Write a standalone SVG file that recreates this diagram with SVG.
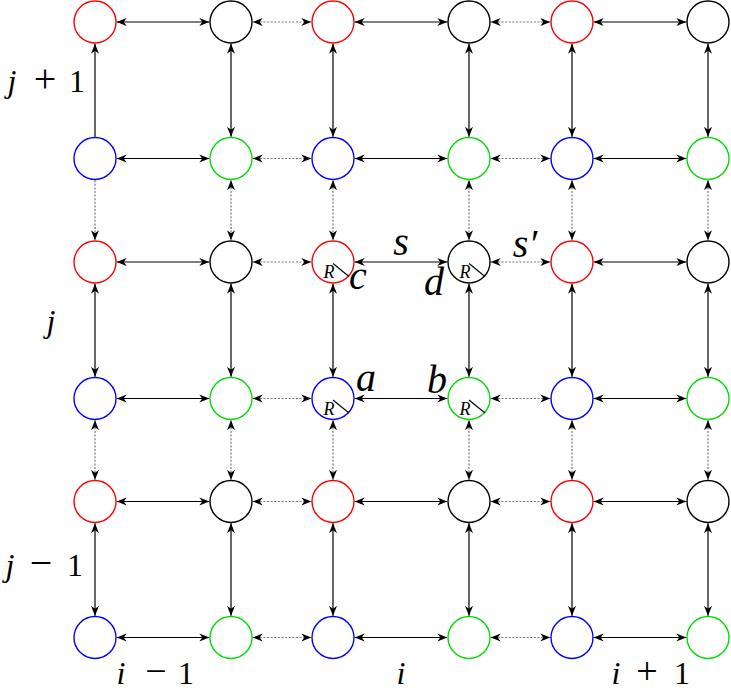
<svg xmlns="http://www.w3.org/2000/svg" width="731" height="692" viewBox="0 0 731 692">
<defs>
<marker id="ah" markerUnits="userSpaceOnUse" markerWidth="12" markerHeight="10" refX="10" refY="5" orient="auto-start-reverse" viewBox="0 0 12 10">
<path d="M0,1 L10,5 L0,9 L3,5 Z" fill="#000"/>
</marker>
</defs>
<g id="connectors" fill="none" stroke-width="1.2">
<g stroke="#000" marker-start="url(#ah)" marker-end="url(#ah)">
<line x1="116.7" y1="22" x2="209.3" y2="22"/><line x1="354.7" y1="22" x2="447.3" y2="22"/><line x1="593.7" y1="22" x2="686.3" y2="22"/>
<line x1="116.7" y1="158.5" x2="209.3" y2="158.5"/><line x1="354.7" y1="158.5" x2="447.3" y2="158.5"/><line x1="593.7" y1="158.5" x2="686.3" y2="158.5"/>
<line x1="116.7" y1="262" x2="209.3" y2="262"/><line x1="354.7" y1="262" x2="447.3" y2="262"/><line x1="593.7" y1="262" x2="686.3" y2="262"/>
<line x1="116.7" y1="398.5" x2="209.3" y2="398.5"/><line x1="354.7" y1="398.5" x2="447.3" y2="398.5"/><line x1="593.7" y1="398.5" x2="686.3" y2="398.5"/>
<line x1="116.7" y1="501.5" x2="209.3" y2="501.5"/><line x1="354.7" y1="501.5" x2="447.3" y2="501.5"/><line x1="593.7" y1="501.5" x2="686.3" y2="501.5"/>
<line x1="116.7" y1="637.5" x2="209.3" y2="637.5"/><line x1="354.7" y1="637.5" x2="447.3" y2="637.5"/><line x1="593.7" y1="637.5" x2="686.3" y2="637.5"/>
<line x1="95" y1="283.7" x2="95" y2="376.8"/><line x1="95" y1="523.2" x2="95" y2="615.8"/>
<line x1="231" y1="43.7" x2="231" y2="136.8"/><line x1="231" y1="283.7" x2="231" y2="376.8"/><line x1="231" y1="523.2" x2="231" y2="615.8"/>
<line x1="333" y1="43.7" x2="333" y2="136.8"/><line x1="333" y1="283.7" x2="333" y2="376.8"/><line x1="333" y1="523.2" x2="333" y2="615.8"/>
<line x1="469" y1="43.7" x2="469" y2="136.8"/><line x1="469" y1="283.7" x2="469" y2="376.8"/><line x1="469" y1="523.2" x2="469" y2="615.8"/>
<line x1="572" y1="43.7" x2="572" y2="136.8"/><line x1="572" y1="283.7" x2="572" y2="376.8"/><line x1="572" y1="523.2" x2="572" y2="615.8"/>
<line x1="708" y1="43.7" x2="708" y2="136.8"/><line x1="708" y1="283.7" x2="708" y2="376.8"/><line x1="708" y1="523.2" x2="708" y2="615.8"/>
</g>
<line stroke="#000" marker-end="url(#ah)" x1="95" y1="136.8" x2="95" y2="43.7"/>
<g stroke="#777" stroke-dasharray="2 1.6" marker-start="url(#ah)" marker-end="url(#ah)">
<line x1="252.7" y1="22" x2="311.3" y2="22"/><line x1="490.7" y1="22" x2="550.3" y2="22"/>
<line x1="252.7" y1="158.5" x2="311.3" y2="158.5"/><line x1="490.7" y1="158.5" x2="550.3" y2="158.5"/>
<line x1="252.7" y1="262" x2="311.3" y2="262"/><line x1="490.7" y1="262" x2="550.3" y2="262"/>
<line x1="252.7" y1="398.5" x2="311.3" y2="398.5"/><line x1="490.7" y1="398.5" x2="550.3" y2="398.5"/>
<line x1="252.7" y1="501.5" x2="311.3" y2="501.5"/><line x1="490.7" y1="501.5" x2="550.3" y2="501.5"/>
<line x1="252.7" y1="637.5" x2="311.3" y2="637.5"/><line x1="490.7" y1="637.5" x2="550.3" y2="637.5"/>
<line x1="95" y1="420.2" x2="95" y2="479.8"/>
<line x1="231" y1="180.2" x2="231" y2="240.3"/><line x1="231" y1="420.2" x2="231" y2="479.8"/>
<line x1="333" y1="180.2" x2="333" y2="240.3"/><line x1="333" y1="420.2" x2="333" y2="479.8"/>
<line x1="469" y1="180.2" x2="469" y2="240.3"/><line x1="469" y1="420.2" x2="469" y2="479.8"/>
<line x1="572" y1="180.2" x2="572" y2="240.3"/><line x1="572" y1="420.2" x2="572" y2="479.8"/>
<line x1="708" y1="180.2" x2="708" y2="240.3"/><line x1="708" y1="420.2" x2="708" y2="479.8"/>
</g>
<line stroke="#777" stroke-dasharray="2 1.6" marker-end="url(#ah)" x1="95" y1="180.2" x2="95" y2="240.3"/>
</g>
<g id="nodes" fill="#fff" stroke-width="1.4">
<g id="n0_0"><circle stroke="#ff0000" cx="95" cy="22" r="21"/></g>
<g id="n0_1"><circle stroke="#000" cx="231" cy="22" r="21"/></g>
<g id="n0_2"><circle stroke="#ff0000" cx="333" cy="22" r="21"/></g>
<g id="n0_3"><circle stroke="#000" cx="469" cy="22" r="21"/></g>
<g id="n0_4"><circle stroke="#ff0000" cx="572" cy="22" r="21"/></g>
<g id="n0_5"><circle stroke="#000" cx="708" cy="22" r="21"/></g>
<g id="n1_0"><circle stroke="#0000ff" cx="95" cy="158.5" r="21"/></g>
<g id="n1_1"><circle stroke="#00dd00" cx="231" cy="158.5" r="21"/></g>
<g id="n1_2"><circle stroke="#0000ff" cx="333" cy="158.5" r="21"/></g>
<g id="n1_3"><circle stroke="#00dd00" cx="469" cy="158.5" r="21"/></g>
<g id="n1_4"><circle stroke="#0000ff" cx="572" cy="158.5" r="21"/></g>
<g id="n1_5"><circle stroke="#00dd00" cx="708" cy="158.5" r="21"/></g>
<g id="n2_0"><circle stroke="#ff0000" cx="95" cy="262" r="21"/></g>
<g id="n2_1"><circle stroke="#000" cx="231" cy="262" r="21"/></g>
<g id="n2_2"><circle stroke="#ff0000" cx="333" cy="262" r="21"/><line stroke="#000" stroke-width="1.1" x1="333" y1="263.5" x2="349" y2="276.5"/><text x="329" y="278" text-anchor="middle" font-family="Liberation Serif" font-style="italic" font-size="18" fill="#000" stroke="none">R</text></g>
<g id="n2_3"><circle stroke="#000" cx="469" cy="262" r="21"/><line stroke="#000" stroke-width="1.1" x1="469" y1="263.5" x2="485" y2="276.5"/><text x="465" y="278" text-anchor="middle" font-family="Liberation Serif" font-style="italic" font-size="18" fill="#000" stroke="none">R</text></g>
<g id="n2_4"><circle stroke="#ff0000" cx="572" cy="262" r="21"/></g>
<g id="n2_5"><circle stroke="#000" cx="708" cy="262" r="21"/></g>
<g id="n3_0"><circle stroke="#0000ff" cx="95" cy="398.5" r="21"/></g>
<g id="n3_1"><circle stroke="#00dd00" cx="231" cy="398.5" r="21"/></g>
<g id="n3_2"><circle stroke="#0000ff" cx="333" cy="398.5" r="21"/><line stroke="#000" stroke-width="1.1" x1="333" y1="400" x2="349" y2="413"/><text x="329" y="414.5" text-anchor="middle" font-family="Liberation Serif" font-style="italic" font-size="18" fill="#000" stroke="none">R</text></g>
<g id="n3_3"><circle stroke="#00dd00" cx="469" cy="398.5" r="21"/><line stroke="#000" stroke-width="1.1" x1="469" y1="400" x2="485" y2="413"/><text x="465" y="414.5" text-anchor="middle" font-family="Liberation Serif" font-style="italic" font-size="18" fill="#000" stroke="none">R</text></g>
<g id="n3_4"><circle stroke="#0000ff" cx="572" cy="398.5" r="21"/></g>
<g id="n3_5"><circle stroke="#00dd00" cx="708" cy="398.5" r="21"/></g>
<g id="n4_0"><circle stroke="#ff0000" cx="95" cy="501.5" r="21"/></g>
<g id="n4_1"><circle stroke="#000" cx="231" cy="501.5" r="21"/></g>
<g id="n4_2"><circle stroke="#ff0000" cx="333" cy="501.5" r="21"/></g>
<g id="n4_3"><circle stroke="#000" cx="469" cy="501.5" r="21"/></g>
<g id="n4_4"><circle stroke="#ff0000" cx="572" cy="501.5" r="21"/></g>
<g id="n4_5"><circle stroke="#000" cx="708" cy="501.5" r="21"/></g>
<g id="n5_0"><circle stroke="#0000ff" cx="95" cy="637.5" r="21"/></g>
<g id="n5_1"><circle stroke="#00dd00" cx="231" cy="637.5" r="21"/></g>
<g id="n5_2"><circle stroke="#0000ff" cx="333" cy="637.5" r="21"/></g>
<g id="n5_3"><circle stroke="#00dd00" cx="469" cy="637.5" r="21"/></g>
<g id="n5_4"><circle stroke="#0000ff" cx="572" cy="637.5" r="21"/></g>
<g id="n5_5"><circle stroke="#00dd00" cx="708" cy="637.5" r="21"/></g>
</g>
<g id="labels" fill="#000">
<text x="12" y="92" font-family="Liberation Serif" font-size="32" font-style="italic" text-anchor="middle">j</text>
<text x="45" y="92" font-family="Liberation Serif" font-size="40" text-anchor="middle">+</text>
<text x="77" y="92" font-family="Liberation Serif" font-size="32" text-anchor="middle">1</text>
<text x="51" y="332" font-family="Liberation Serif" font-size="32" font-style="italic" text-anchor="middle">j</text>
<text x="10" y="576" font-family="Liberation Serif" font-size="32" font-style="italic" text-anchor="middle">j</text>
<text x="41" y="576" font-family="Liberation Serif" font-size="40" text-anchor="middle">−</text>
<text x="75" y="576" font-family="Liberation Serif" font-size="32" text-anchor="middle">1</text>
<text x="121" y="684" font-family="Liberation Serif" font-size="32" font-style="italic" text-anchor="middle">i</text>
<text x="156" y="684" font-family="Liberation Serif" font-size="38" text-anchor="middle">−</text>
<text x="186" y="684" font-family="Liberation Serif" font-size="32" text-anchor="middle">1</text>
<text x="401" y="684" font-family="Liberation Serif" font-size="32" font-style="italic" text-anchor="middle">i</text>
<text x="616" y="684" font-family="Liberation Serif" font-size="32" font-style="italic" text-anchor="middle">i</text>
<text x="647" y="684" font-family="Liberation Serif" font-size="38" text-anchor="middle">+</text>
<text x="682" y="684" font-family="Liberation Serif" font-size="32" text-anchor="middle">1</text>
<text x="401" y="255" font-family="Liberation Serif" font-size="40" font-style="italic" text-anchor="middle">s</text>
<text x="525" y="257" font-family="Liberation Serif" font-size="40" font-style="italic" text-anchor="middle">s′</text>
<text x="358" y="289" font-family="Liberation Serif" font-size="40" font-style="italic" text-anchor="middle">c</text>
<text x="434" y="295" font-family="Liberation Serif" font-size="40" font-style="italic" text-anchor="middle">d</text>
<text x="366" y="391" font-family="Liberation Serif" font-size="40" font-style="italic" text-anchor="middle">a</text>
<text x="437" y="393" font-family="Liberation Serif" font-size="40" font-style="italic" text-anchor="middle">b</text>
</g>
</svg>
